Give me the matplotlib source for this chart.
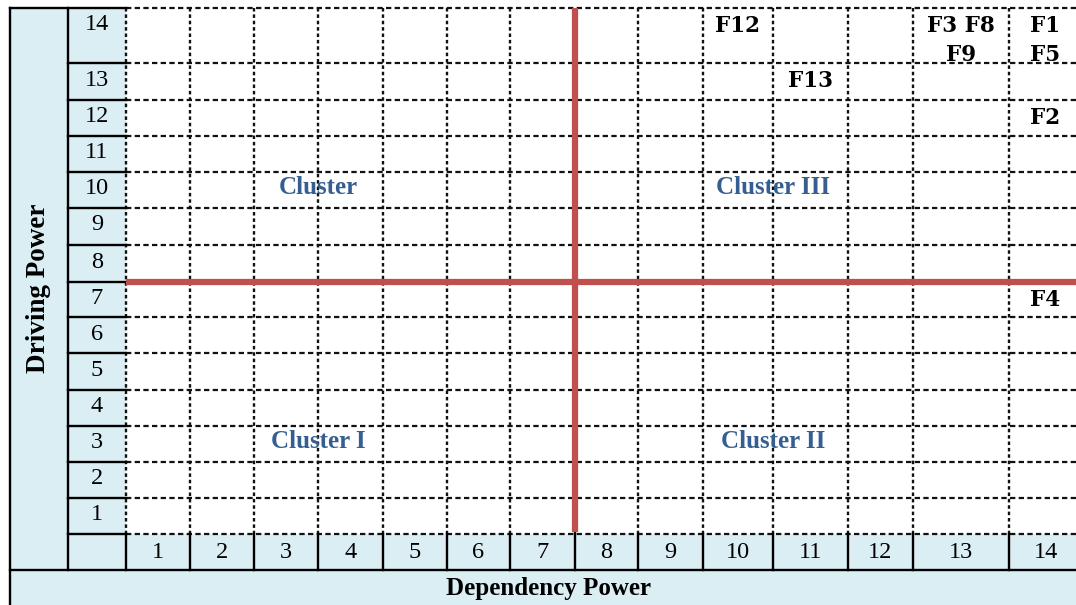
import numpy as np
import matplotlib.pyplot as plt

dependency_ticks = list(range(1, 15))
driving_ticks = list(range(1, 15))
factors = ['F12', 'F3', 'F8', 'F9', 'F1', 'F5', 'F13', 'F2', 'F4']
dependency = [10, 13, 13, 13, 14, 14, 11, 14, 14]
driving = [14, 14, 14, 14, 14, 14, 13, 12, 7]
clusters = ['Cluster', 'Cluster III', 'Cluster I', 'Cluster II']
cluster_dep = [3.5, 10.5, 3.5, 10.5]
cluster_drive = [10, 10, 3, 3]
split_dep = 7.5
split_drive = 7.5

# table layout in pixels (word-table like, uneven columns)
col_edges = [126, 190, 254, 318, 383, 447, 510, 575, 638, 703, 773, 848, 913, 1009, 1082]
row_edges = [534, 498, 462, 426, 390, 353, 317, 282, 245, 208, 172, 136, 100, 63, 8]
edge_idx = np.arange(0.5, 15)


def xpos(v):
    return np.interp(v, edge_idx, col_edges)


def ypos(v):
    return np.interp(v, edge_idx, row_edges)


blue = '#DAEEF3'
red = '#C0504D'
navy = '#365F91'
serif = 'Liberation Serif'

fig = plt.figure(figsize=(10.76, 6.05), dpi=100)
ax = fig.add_axes([0, 0, 1, 1])
ax.set_xlim(0, 1076)
ax.set_ylim(605, 0)
ax.axis('off')

# shaded header cells
ax.add_patch(plt.Rectangle((10, 8), 116, 562, color=blue, lw=0, zorder=0))
ax.add_patch(plt.Rectangle((126, 534), 960, 36, color=blue, lw=0, zorder=0))
ax.add_patch(plt.Rectangle((10, 570), 1076, 40, color=blue, lw=0, zorder=0))

# dashed grid
for x in col_edges[:-1]:
    ax.plot([x, x], [8, 534], color='#111111', lw=1.7, ls=(0, (1.5, 1.2)), zorder=2)
for y in row_edges:
    ax.plot([126, 1082], [y, y], color='#111111', lw=1.6, ls=(0, (2.4, 1.5)), zorder=2)

# solid table rules
solid = dict(color='black', lw=1.7, zorder=3)
ax.plot([10, 10], [8, 610], **solid)
ax.plot([68, 68], [8, 570], **solid)
ax.plot([10, 126], [8, 8], **solid)
for y in row_edges[:-1]:
    ax.plot([68, 126], [y, y], **solid)
for x in col_edges:
    ax.plot([x, x], [534, 570], **solid)
ax.plot([10, 1082], [570, 570], **solid)

# quadrant split lines
ax.plot([xpos(0.5), xpos(14.5)], [ypos(split_drive)] * 2, color=red, lw=4.5, zorder=4,
        solid_capstyle='butt')
ax.plot([xpos(split_dep)] * 2, [ypos(14.5), ypos(0.5) - 2], color=red, lw=4.5, zorder=4,
        solid_capstyle='butt')

# row / column numbers
for r in driving_ticks:
    ax.text(97, ypos(r + 0.5) + 17, str(r), ha='center', va='center',
            fontsize=17.5, family=serif, zorder=5)
for c in dependency_ticks:
    ax.text(xpos(c), 552, str(c), ha='center', va='center',
            fontsize=17.5, family=serif, zorder=5)

ax.text(39, 288, 'Driving Power', rotation=90, ha='center', va='center',
        fontsize=19.5, fontweight='bold', family=serif)
ax.text(548, 588, 'Dependency Power', ha='center', va='center',
        fontsize=18, fontweight='bold', family=serif)

for name, cx, cy in zip(clusters, cluster_dep, cluster_drive):
    ax.text(xpos(cx), ypos(cy + 0.5) + 16, name, ha='center', va='center',
            fontsize=18, fontweight='bold', family=serif, color=navy, zorder=5)

# factor labels grouped per cell
cells = {}
for f, d, p in zip(factors, dependency, driving):
    cells.setdefault((d, p), []).append(f)
for (d, p), names in cells.items():
    width = xpos(d + 0.5) - xpos(d - 0.5)
    per_line = 2 if width > 80 else 1
    lines = [' '.join(names[i:i + per_line]) for i in range(0, len(names), per_line)]
    for k, line in enumerate(lines):
        ax.text(xpos(d), ypos(p + 0.5) + 18 + 29 * k, line, ha='center', va='center',
                fontsize=15.5, fontweight='bold', family='DejaVu Serif', zorder=5)

fig.savefig('out.png', dpi=100)
